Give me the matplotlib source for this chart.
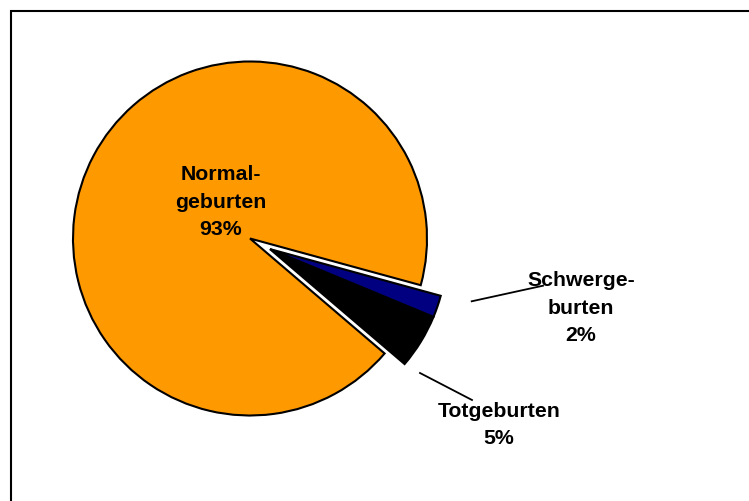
import matplotlib.pyplot as plt
from matplotlib.patches import Rectangle

# data (counterclockwise order starting at the upper edge of the orange slice)
labels = ['Normal-\ngeburten', 'Totgeburten', 'Schwerge-\nburten']
values = [93, 5, 2]
colors = ['#FF9900', '#000000', '#000080']

W, H = 749, 502
fig = plt.figure(figsize=(W / 100, H / 100), dpi=100)
ax = fig.add_axes([0, 0, 1, 1])

center = (250, H - 239.5)
radius = 177
wedges, _ = ax.pie(values, colors=colors, startangle=-15.3, center=center,
                   radius=radius, counterclock=True,
                   wedgeprops=dict(edgecolor='black', linewidth=1.5))

# pull the two small slices out together
for w in wedges[1:]:
    w.set_center((center[0] + 20, center[1] - 10.6))

ax.set_xlim(0, W)
ax.set_ylim(0, H)
ax.set_aspect('equal')
ax.axis('off')

font = dict(family=['Liberation Sans', 'DejaVu Sans'], fontsize=15.3,
            fontweight='bold', ha='center', va='center', linespacing=1.55)

ax.text(221, H - 202, labels[0] + '\n%d%%' % values[0], **font)
ax.text(581, H - 308, labels[2] + '\n%d%%' % values[2], **font)
ax.text(499, H - 425, labels[1] + '\n%d%%' % values[1], **font)

# leader lines
ax.plot([471.7, 543], [H - 302.3, H - 286.7], color='black', lw=1.3)
ax.plot([420, 472], [H - 374, H - 401], color='black', lw=1.3)

# outer frame (runs off the right and bottom edges)
fig.patches.append(Rectangle((11 / W, -0.05), 1.1, 1 - 11.5 / H + 0.05,
                             transform=fig.transFigure, fill=False,
                             edgecolor='black', linewidth=1.5))

fig.savefig('out.png', dpi=100)
